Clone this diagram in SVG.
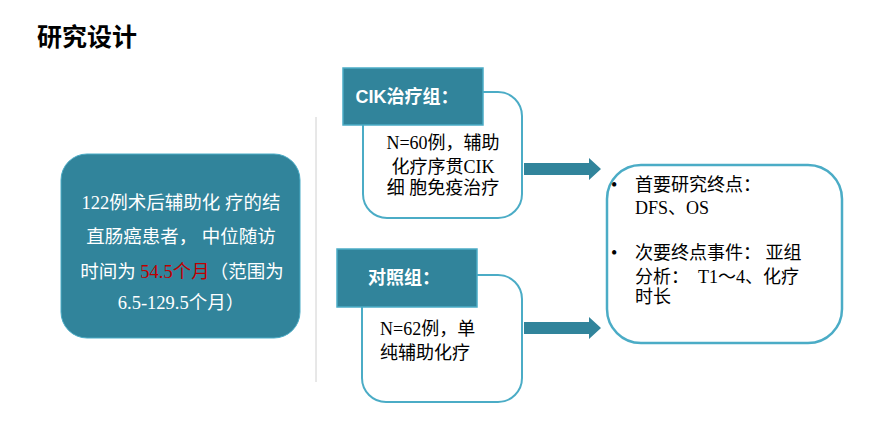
<svg xmlns="http://www.w3.org/2000/svg" width="875" height="442" viewBox="0 0 875 442">
<style>
.t{font-family:"Liberation Serif","Noto Sans CJK SC",serif;font-size:18px;fill:#000}
.w{font-family:"Liberation Serif","Noto Sans CJK SC",serif;font-size:18.5px;fill:#fff}
.h{font-family:"Liberation Sans","Noto Sans CJK SC",sans-serif;font-size:18px;font-weight:bold;fill:#fff}
.box{fill:#fff;stroke:#4BACC6;stroke-width:2}
.hdr{fill:#31849B;stroke:#4BACC6;stroke-width:1.5}
.arr{fill:#31849B}
</style>
<rect width="875" height="442" fill="#fff"/>
<text x="37" y="46" style="font-family:'Liberation Serif','Noto Sans CJK SC',serif;font-size:25px;font-weight:bold;fill:#000">研究设计</text>
<line x1="316" y1="117" x2="316" y2="382" stroke="#D0D0D0" stroke-width="1"/>
<g id="patients">
<rect x="61" y="154" width="239" height="184" rx="26" fill="#31849B" stroke="#4BACC6" stroke-width="1"/>
<text class="w" x="181" y="209" text-anchor="middle" xml:space="preserve">122例术后辅助化 疗的结</text>
<text class="w" x="181" y="243" text-anchor="middle" xml:space="preserve">直肠癌患者， 中位随访</text>
<text class="w" x="182" y="278" text-anchor="middle" xml:space="preserve">时间为 <tspan fill="#C00000">54.5个月</tspan>（范围为</text>
<text class="w" x="181" y="309" text-anchor="middle">6.5-129.5个月）</text>
</g>
<g id="cik">
<rect class="box" x="363" y="92" width="159" height="126" rx="24"/>
<rect class="hdr" x="343" y="68" width="140" height="57"/>
<text class="h" x="407" y="103" text-anchor="middle">CIK治疗组：</text>
<text class="t" x="443" y="149" text-anchor="middle">N=60例，辅助</text>
<text class="t" x="443" y="173" text-anchor="middle">化疗序贯CIK</text>
<text class="t" x="443" y="194" text-anchor="middle" xml:space="preserve">细 胞免疫治疗</text>
</g>
<g id="control">
<rect class="box" x="362" y="275" width="160" height="127" rx="24"/>
<rect class="hdr" x="337" y="249" width="140" height="58"/>
<text class="h" x="404" y="284" text-anchor="middle">对照组：</text>
<text class="t" x="380" y="335">N=62例，单</text>
<text class="t" x="380" y="359">纯辅助化疗</text>
</g>
<g id="endpoints">
<rect x="607" y="165" width="235" height="178" rx="34" fill="#fff" stroke="#4BACC6" stroke-width="2.5"/>
<text class="t" x="611" y="191">•</text>
<text class="t" x="635" y="191">首要研究终点：</text>
<text class="t" x="635" y="214">DFS、OS</text>
<text class="t" x="611" y="259">•</text>
<text class="t" x="635" y="259" xml:space="preserve">次要终点事件： 亚组</text>
<text class="t" x="635" y="283" xml:space="preserve">分析：  T1～4、化疗</text>
<text class="t" x="635" y="303">时长</text>
</g>
<g id="connectors">
<polygon class="arr" points="524,163 589,163 589,158 601,169 589,180 589,175 524,175"/>
<polygon class="arr" points="524,322 589,322 589,317 601,328 589,339 589,334 524,334"/>
</g>
</svg>
